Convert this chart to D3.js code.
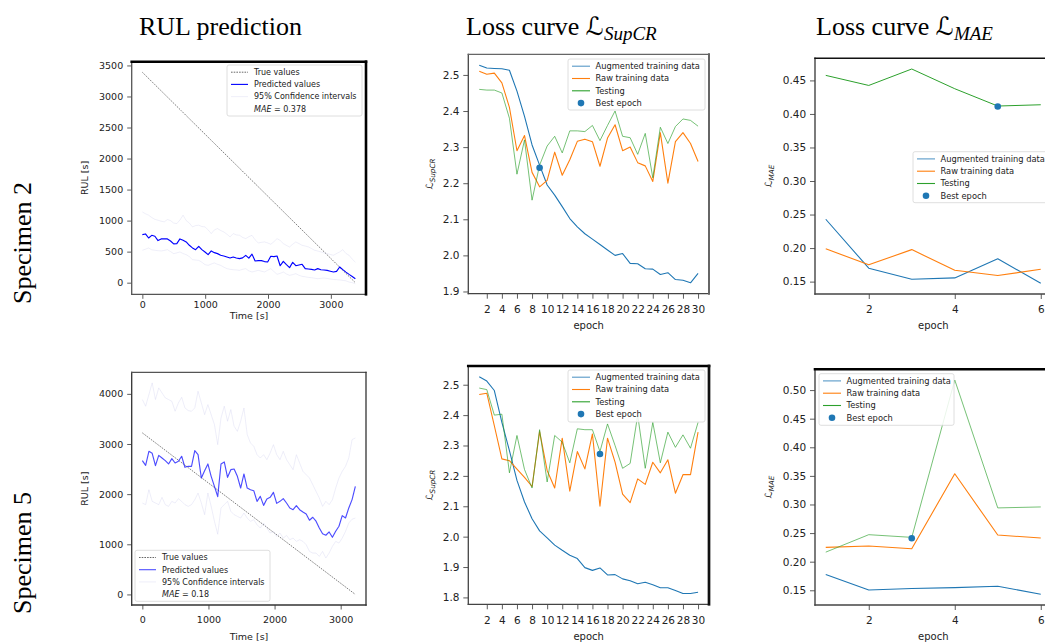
<!doctype html>
<html>
<head>
<meta charset="utf-8"/>
<script src="https://cdnjs.cloudflare.com/ajax/libs/d3/7.8.5/d3.min.js"></script>
<style>
  body { margin: 0; background: #fff; }
  svg { display: block; font-family: "DejaVu Sans", sans-serif; }
  .title { font-family: "Liberation Serif", "Times New Roman", serif; font-size: 26px; fill: #000; }
  .tick line { stroke: #333; stroke-width: 0.8; }
  .tick text { fill: #222; }
</style>
</head>
<body>
<svg width="1045" height="643"></svg>
<script>
// ---- RUL prediction, specimen 2 (samples evenly spaced from 0 to end time) ----
var spec2End = 3390;
var spec2Pred = [775,785,720,763,748,678,705,705,705,672,624,630,705,683,656,602,560,532,586,532,
  494,451,511,484,468,441,430,414,398,414,398,387,400,440,395,460,350,355,355,340,
  333,425,420,430,273,344,290,242,328,273,285,296,226,220,215,204,226,209,204,199,
  185,172,183,253,210,170,134,100,64];
var spec2Upper = [1140,1110,1087,1050,1020,1006,990,980,1017,1000,960,952,1010,1087,1000,960,899,920,926,905,
  899,850,791,850,872,840,818,780,737,791,770,764,730,710,740,764,690,640,650,656,
  640,619,660,710,680,630,600,576,620,656,630,602,590,576,550,522,510,495,480,468,
  455,441,470,495,532,470,441,380,330];
var spec2Lower = [522,540,559,530,522,515,511,520,532,500,468,480,495,470,451,420,371,365,360,330,
  290,279,300,318,295,279,250,226,215,209,205,199,215,226,190,172,185,199,185,172,
  200,226,180,134,150,172,140,118,130,145,120,102,95,85,80,72,64,70,75,68,
  59,52,48,44,37,30,10,0,-17];
var spec2Mae = "0.378";

// ---- RUL prediction, specimen 5 ----
var spec5End = 3222;
var spec5Pred = [2669,2575,2854,2814,2568,2774,2721,2668,2602,2708,2621,2655,2755,2535,2555,2555,2868,2788,2322,2468,
  2602,2355,2156,1950,2602,2642,2335,2488,2502,2355,2122,2402,2122,2089,2069,1856,1956,1776,1903,1936,
  2036,1816,1856,1910,1823,1723,1690,1770,1690,1643,1603,1479,1539,1460,1326,1210,1180,1246,1139,1259,
  1359,1572,1525,1725,1891,2157];
var spec5Upper = [3886,3753,3986,4219,3886,4119,4019,3919,3886,3852,3653,3819,3932,3719,3666,3653,3719,4052,3819,3586,
  3786,3586,3386,2987,3519,3753,3453,3686,3353,3253,3453,3719,3187,3020,2954,2787,2721,2787,2688,2821,
  2987,2787,2688,2854,2688,2588,2488,2787,2621,2455,2388,2322,2189,2056,1923,1756,1856,1790,1889,2122,
  2322,2455,2555,2721,3087,3120];
var spec5Lower = [1823,1790,2089,1856,1823,1790,1936,1790,1756,1856,1823,1910,1856,1790,1756,1790,1889,2022,1823,1590,
  2022,1756,1458,1200,1725,1790,1857,1657,1590,1557,1523,1623,1523,1457,1490,1390,1324,1424,1324,1224,
  1257,1158,1224,1124,1177,1091,1124,1058,1091,1058,991,858,825,825,758,858,725,825,958,1058,
  1024,1124,1257,1424,1500,1523];
var spec5Mae = "0.18";

// ---- Loss curves L_SupCR (epochs 1..30) ----
var epochsSupCR = d3.range(1, 31);
var supcr2Aug = [2.527,2.519,2.518,2.517,2.513,2.455,2.385,2.306,2.25,2.195,2.167,2.135,2.102,2.079,2.06,2.045,2.03,2.015,2.0,2.005,1.978,1.977,1.963,1.962,1.947,1.952,1.933,1.931,1.924,1.95];
var supcr2Raw = [2.51,2.502,2.505,2.478,2.41,2.29,2.332,2.23,2.19,2.208,2.286,2.222,2.265,2.316,2.322,2.315,2.247,2.325,2.362,2.29,2.30,2.257,2.248,2.205,2.34,2.20,2.315,2.34,2.31,2.26];
var supcr2Test = [2.46,2.458,2.458,2.45,2.38,2.225,2.32,2.153,2.25,2.303,2.33,2.284,2.345,2.345,2.343,2.36,2.318,2.36,2.40,2.33,2.326,2.28,2.338,2.215,2.355,2.31,2.357,2.378,2.374,2.358];
var supcr2Best = [9, 2.243];
var supcr5Aug = [2.526,2.512,2.481,2.376,2.283,2.185,2.114,2.059,2.019,1.996,1.972,1.955,1.939,1.928,1.898,1.889,1.897,1.874,1.875,1.861,1.855,1.845,1.85,1.842,1.832,1.832,1.823,1.813,1.813,1.817];
var supcr5Raw = [2.468,2.472,2.365,2.256,2.25,2.222,2.195,2.165,2.346,2.218,2.16,2.324,2.15,2.28,2.223,2.338,2.10,2.324,2.245,2.14,2.112,2.19,2.172,2.245,2.21,2.253,2.143,2.204,2.204,2.344];
var supcr5Test = [2.489,2.484,2.4,2.403,2.21,2.333,2.221,2.16,2.352,2.18,2.333,2.311,2.243,2.355,2.352,2.352,2.28,2.371,2.3,2.225,2.241,2.4,2.225,2.376,2.243,2.344,2.294,2.335,2.291,2.376];
var supcr5Best = [17, 2.272];

// ---- Loss curves L_MAE (epochs 1..6) ----
var epochsMAE = [1, 2, 3, 4, 5, 6];
var mae2Aug = [0.243,0.170,0.1535,0.1555,0.184,0.1475];
var mae2Raw = [0.199,0.175,0.1977,0.167,0.159,0.1684];
var mae2Test = [0.4575,0.4425,0.467,0.4376,0.4118,0.4137];
var mae2Best = [5, 0.411];
var mae5Aug = [0.1775,0.1506,0.153,0.1547,0.157,0.143];
var mae5Raw = [0.225,0.2273,0.2226,0.3537,0.2466,0.2413];
var mae5Test = [0.2167,0.2472,0.2425,0.5176,0.294,0.2957];
var mae5Best = [3, 0.241];

var rulTicks2 = [0,500,1000,1500,2000,2500,3000,3500];
var rulTicks5 = [0,1000,2000,3000,4000];
var timeTicks = [0,1000,2000,3000];
var supcrTicks2 = [1.9,2.0,2.1,2.2,2.3,2.4,2.5];
var supcrTicks5 = [1.8,1.9,2.0,2.1,2.2,2.3,2.4,2.5];
var epochTicks30 = d3.range(2, 31, 2);
var maeTicks2 = [0.15,0.20,0.25,0.30,0.35,0.40,0.45];
var maeTicks5 = [0.15,0.20,0.25,0.30,0.35,0.40,0.45,0.50];
var epochTicks6 = [2, 4, 6];

var lossLabels = ["Augmented training data", "Raw training data", "Testing", "Best epoch"];
var C_BLUE = "#1f77b4", C_ORANGE = "#ff7f0e", C_GREEN = "#2ca02c";
var C_CI = "#c9c9ec";

var svg = d3.select("svg");

function padded(vals) {
  var e = d3.extent(vals), m = (e[1] - e[0]) * 0.05;
  return [e[0] - m, e[1] + m];
}
function sampleTimes(n, end) {
  return d3.range(n).map(i => i * end / (n - 1));
}

function drawPanel(p) {
  var b = p.box; // [left, top, right, bottom]
  var x = d3.scaleLinear().domain(p.xDomain).range([b[0], b[2]]);
  var y = d3.scaleLinear().domain(p.yDomain).range([b[3], b[1]]);
  var g = svg.append("g");

  svg.append("clipPath").attr("id", "clip" + p.id)
    .append("rect").attr("x", b[0]).attr("y", b[1]).attr("width", b[2] - b[0]).attr("height", b[3] - b[1]);
  var plot = g.append("g").attr("clip-path", "url(#clip" + p.id + ")");

  var line = d3.line().x(d => x(d[0])).y(d => y(d[1]));
  p.series.forEach(s => {
    plot.append("path")
      .datum(s.xs.map((v, i) => [v, s.ys[i]]))
      .attr("fill", "none")
      .attr("stroke", s.color)
      .attr("stroke-width", s.width)
      .attr("stroke-opacity", s.opacity == null ? 1 : s.opacity)
      .attr("stroke-dasharray", s.dash || null)
      .attr("stroke-linejoin", "round")
      .attr("d", line);
  });
  if (p.best) {
    plot.append("circle").attr("cx", x(p.best[0])).attr("cy", y(p.best[1]))
      .attr("r", 3.3).attr("fill", C_BLUE);
  }

  // axes
  var xa = g.append("g").attr("transform", "translate(0," + b[3] + ")")
    .call(d3.axisBottom(x).tickValues(p.xTicks).tickSize(p.tickLen).tickPadding(p.xPad).tickSizeOuter(0).tickFormat(p.xFmt));
  var ya = g.append("g").attr("transform", "translate(" + b[0] + ",0)")
    .call(d3.axisLeft(y).tickValues(p.yTicks).tickSize(p.tickLen).tickPadding(p.yPad).tickSizeOuter(0).tickFormat(p.yFmt));
  [xa, ya].forEach(a => {
    a.select(".domain").remove();
    a.attr("font-family", "DejaVu Sans").attr("font-size", p.tickFs);
  });

  // spines
  var sp = p.spines;
  function spine(x1, y1, x2, y2, st) {
    g.append("line").attr("x1", x1).attr("y1", y1).attr("x2", x2).attr("y2", y2)
      .attr("stroke", st[1]).attr("stroke-width", st[0]).attr("stroke-linecap", "square");
  }
  spine(b[0], b[3], b[2], b[3], sp.bottom);
  spine(b[0], b[1], b[0], b[3], sp.left);
  spine(b[0], b[1], b[2], b[1], sp.top);
  spine(b[2], b[1], b[2], b[3], sp.right);

  // axis labels
  g.append("text").attr("x", p.xLabelPos[0]).attr("y", p.xLabelPos[1]).attr("dy", "0.35em")
    .attr("text-anchor", "middle").attr("font-size", p.labelFs).attr("fill", "#222").text(p.xLabel);
  var yl = g.append("text")
    .attr("transform", "translate(" + p.yLabelPos[0] + "," + p.yLabelPos[1] + ") rotate(-90)")
    .attr("dy", "0.35em").attr("text-anchor", "middle").attr("font-size", p.labelFs).attr("fill", "#222");
  if (p.yLabelSub) {
    yl.append("tspan").text("\u2112");
    yl.append("tspan").attr("font-size", p.labelFs * 0.72).attr("font-style", "italic").attr("dy", "0.3em").text(p.yLabelSub);
  } else {
    yl.text(p.yLabel);
  }

  // legend
  var L = p.legend;
  var lg = g.append("g");
  lg.append("rect").attr("x", L.x).attr("y", L.y).attr("width", L.w).attr("height", L.h)
    .attr("rx", 2).attr("fill", "#fff").attr("fill-opacity", 0.85).attr("stroke", "#d6d6d6").attr("stroke-width", 0.8);
  L.rows.forEach((r, i) => {
    var cy = L.y + L.first + i * L.step;
    var hx0 = L.x + L.hx0, hx1 = L.x + L.hx1;
    if (r.kind === "line") {
      lg.append("line").attr("x1", hx0).attr("x2", hx1).attr("y1", cy).attr("y2", cy)
        .attr("stroke", r.color).attr("stroke-width", r.width).attr("stroke-opacity", r.opacity == null ? 1 : r.opacity)
        .attr("stroke-dasharray", r.dash || null);
    } else if (r.kind === "dot") {
      lg.append("circle").attr("cx", (hx0 + hx1) / 2).attr("cy", cy).attr("r", 3.3).attr("fill", r.color);
    }
    var t = lg.append("text").attr("x", L.x + L.tx).attr("y", cy).attr("dy", "0.35em")
      .attr("font-size", L.fs).attr("fill", "#222");
    r.parts.forEach(pt => {
      t.append("tspan").attr("font-style", pt[1] ? "italic" : null).text(pt[0]);
    });
  });
}

// ---------- RUL panels ----------
function rulPanel(id, box, end, pred, upper, lower, mae, yTicks, predOpacity, ciOpacity, legend, xLabelY, xPad, spines) {
  var t = sampleTimes(pred.length, end);
  var allY = pred.concat(upper, lower, [end, 0]);
  drawPanel({
    id: id, box: box,
    xDomain: padded([0, end]), yDomain: padded(allY),
    xTicks: timeTicks, yTicks: yTicks, xFmt: d3.format("d"), yFmt: d3.format("d"),
    tickLen: 4.5, xPad: xPad, yPad: 4, tickFs: 9.5, labelFs: 9.5,
    xLabel: "Time [s]", xLabelPos: [249, xLabelY],
    yLabel: "RUL [s]", yLabelPos: [84.5, (box[1] + box[3]) / 2],
    spines: spines,
    series: [
      {xs: [0, end], ys: [end, 0], color: "#000", width: 0.6, dash: "1.6,1.1", opacity: 0.85},
      {xs: t, ys: upper, color: C_CI, width: 1, opacity: ciOpacity},
      {xs: t, ys: lower, color: C_CI, width: 1, opacity: ciOpacity},
      {xs: t, ys: pred, color: "#0000ff", width: 1.15, opacity: predOpacity}
    ],
    legend: Object.assign({
      fs: 8, first: 7.2, step: 12.2, hx0: 4, hx1: 21, tx: 27,
      rows: [
        {kind: "line", color: "#000", width: 0.6, dash: "1.6,1.1", parts: [["True values"]]},
        {kind: "line", color: "#0000ff", width: 1.1, opacity: predOpacity, parts: [["Predicted values"]]},
        {kind: "line", color: C_CI, width: 1, opacity: ciOpacity, parts: [["95% Confidence intervals"]]},
        {kind: "none", parts: [["MAE", true], [" = " + mae]]}
      ]
    }, legend)
  });
}

rulPanel("tl", [131.7, 61.7, 366, 294.3], spec2End, spec2Pred, spec2Upper, spec2Lower, spec2Mae, rulTicks2, 1, 0.3,
  {x: 227, y: 65, w: 135, h: 51}, 316, 2,
  {top: [2.6, "#000"], right: [2.6, "#000"], left: [1.3, "#555"], bottom: [1.3, "#555"]});
rulPanel("bl", [131.7, 372.3, 366, 605], spec5End, spec5Pred, spec5Upper, spec5Lower, spec5Mae, rulTicks5, 0.7, 0.32,
  {x: 135, y: 550.3, w: 135, h: 51}, 636.7, 6.5,
  {top: [1.3, "#555"], right: [1.3, "#333"], left: [1.3, "#333"], bottom: [1.3, "#333"]});

// ---------- Loss panels ----------
function lossPanel(id, box, epochs, aug, raw, test, best, xTicks, yTicks, yFmt, sub, yLabelX, testOpacity, legend, xLabelY, spines) {
  drawPanel({
    id: id, box: box,
    xDomain: padded(epochs), yDomain: padded(aug.concat(raw, test)),
    xTicks: xTicks, yTicks: yTicks, xFmt: d3.format("d"), yFmt: d3.format(yFmt),
    tickLen: 5, xPad: 7, yPad: 3.8, tickFs: 10.5, labelFs: 10,
    xLabel: "epoch", xLabelPos: [(box[0] + box[2]) / 2, xLabelY],
    yLabelSub: sub, yLabelPos: [yLabelX, (box[1] + box[3]) / 2],
    spines: spines,
    series: [
      {xs: epochs, ys: aug, color: C_BLUE, width: 1.1},
      {xs: epochs, ys: raw, color: C_ORANGE, width: 1.1},
      {xs: epochs, ys: test, color: C_GREEN, width: 1, opacity: testOpacity}
    ],
    best: best,
    legend: Object.assign({
      fs: 8.3, first: 7.2, step: 12.3, hx0: 4, hx1: 22, tx: 27.5,
      rows: [
        {kind: "line", color: C_BLUE, width: 1.1, opacity: 0.75, parts: [[lossLabels[0]]]},
        {kind: "line", color: C_ORANGE, width: 1.1, parts: [[lossLabels[1]]]},
        {kind: "line", color: C_GREEN, width: 1.1, parts: [[lossLabels[2]]]},
        {kind: "dot", color: C_BLUE, parts: [[lossLabels[3]]]}
      ]
    }, legend)
  });
}

lossPanel("tm", [468.3, 54.3, 709, 293.7], epochsSupCR, supcr2Aug, supcr2Raw, supcr2Test, supcr2Best,
  epochTicks30, supcrTicks2, ".1f", "SupCR", 429, 0.65, {x: 568, y: 59, w: 137, h: 51}, 325.7,
  {top: [1.3, "#666"], right: [2, "#666"], left: [1.3, "#444"], bottom: [1.3, "#444"]});
lossPanel("bm", [468.3, 366, 709, 604.3], epochsSupCR, supcr5Aug, supcr5Raw, supcr5Test, supcr5Best,
  epochTicks30, supcrTicks5, ".1f", "SupCR", 429, 0.65, {x: 568, y: 370, w: 137, h: 52}, 636.7,
  {top: [2.7, "#000"], right: [2.7, "#111"], left: [1.3, "#444"], bottom: [1.3, "#444"]});
lossPanel("tr", [815, 58.3, 1051.5, 294], epochsMAE, mae2Aug, mae2Raw, mae2Test, mae2Best,
  epochTicks6, maeTicks2, ".2f", "MAE", 768.5, 1, {x: 913, y: 151.7, w: 150, h: 51}, 325.7,
  {top: [1.5, "#111"], right: [1.5, "#111"], left: [1.4, "#444"], bottom: [1.3, "#444"]});
lossPanel("br", [815, 369.3, 1051.5, 605], epochsMAE, mae5Aug, mae5Raw, mae5Test, mae5Best,
  epochTicks6, maeTicks5, ".2f", "MAE", 768.5, 0.65, {x: 819, y: 373.7, w: 135, h: 51.6}, 636.7,
  {top: [2.6, "#000"], right: [2.6, "#000"], left: [1.4, "#444"], bottom: [1.3, "#444"]});

// ---------- column titles and row labels ----------
svg.append("text").attr("class", "title").attr("x", 139).attr("y", 35).text("RUL prediction");
function lossTitle(x, sub) {
  var t = svg.append("text").attr("class", "title").attr("x", x).attr("y", 35);
  t.append("tspan").text("Loss curve ");
  t.append("tspan").attr("font-family", "DejaVu Serif, DejaVu Sans").attr("font-size", 25).text("\u2112");
  t.append("tspan").attr("font-style", "italic").attr("font-size", 19).attr("dy", 5).text(sub);
}
lossTitle(466, "SupCR");
lossTitle(816, "MAE");

[["Specimen 2", 243], ["Specimen 5", 553]].forEach(r => {
  svg.append("text").attr("class", "title")
    .attr("transform", "translate(31," + r[1] + ") rotate(-90)")
    .attr("text-anchor", "middle").text(r[0]);
});
</script>
</body>
</html>
